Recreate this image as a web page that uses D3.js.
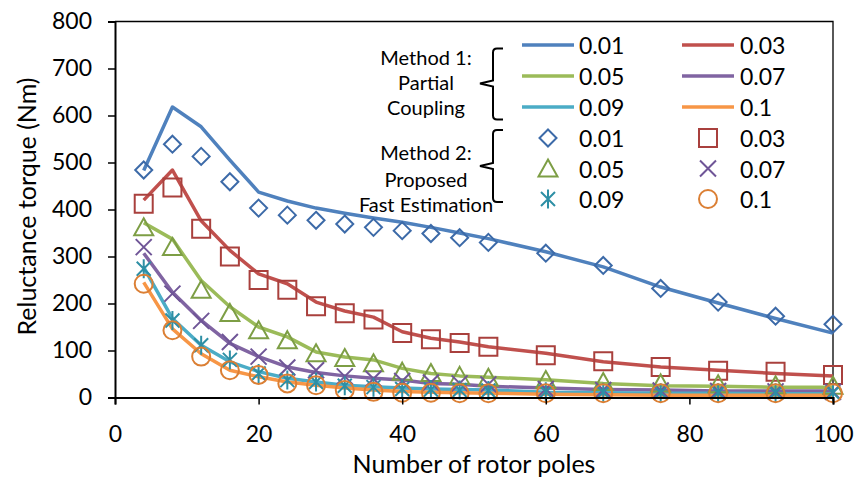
<!DOCTYPE html>
<html>
<head>
<meta charset="utf-8">
<script src="https://cdn.jsdelivr.net/npm/d3@7"></script>
<style>
  body { margin: 0; background: #fff; }
  svg { display: block; }
  text { font-family: Lato, "Open Sans", sans-serif; fill: #000; }
</style>
</head>
<body>
<div id="chart-container"></div>
<script>
// x values: number of rotor poles
const poles = [4, 8, 12, 16, 20, 24, 28, 32, 36, 40, 44, 48, 52, 60, 68, 76, 84, 92, 100];

// Method 1: Partial Coupling (lines)
const partial001 = [483, 618, 576, 505, 437, 418, 403, 392, 382, 373, 362, 350, 338, 310, 278, 235, 201, 168, 137];
const partial003 = [420, 484, 376, 313, 263, 242, 203, 184, 171, 140, 126, 118, 108, 94, 76, 65, 58, 51, 46];
const partial005 = [372, 337, 249, 193, 150, 129, 97, 86, 80, 62, 51, 46, 43, 38, 30, 25, 24, 22, 22];
const partial007 = [307, 224, 164, 115, 87, 65, 53, 46, 41, 37, 30, 28, 24, 20, 17, 16, 14, 14, 14];
const partial009 = [277, 168, 111, 76, 55, 41, 33, 26, 23, 20, 18, 17, 16, 11, 10, 9, 9, 8, 8];
const partial01 = [245, 146, 93, 58, 44, 33, 26, 20, 16, 13, 11, 10, 9, 7, 6, 5, 5, 5, 5];

// Method 2: Proposed Fast Estimation (markers)
const fast001 = [484, 539, 513, 459, 403, 388, 377, 369, 362, 355, 349, 340, 330, 307, 281, 232, 203, 173, 156];
const fast003 = [412, 447, 359, 300, 250, 229, 194, 179, 166, 137, 124, 116, 108, 90, 77, 65, 57, 55, 48];
const fast005 = [362, 320, 229, 180, 143, 122, 94, 84, 73, 55, 52, 46, 42, 37, 33, 30, 28, 26, 25];
const fast007 = [320, 221, 163, 118, 87, 64, 58, 45, 40, 35, 32, 30, 28, 18, 16, 15, 14, 13, 12];
const fast009 = [274, 164, 111, 80, 51, 37, 33, 25, 22, 18, 17, 16, 15, 12, 11, 10, 10, 10, 10];
const fast01 = [242, 143, 87, 58, 48, 30, 26, 16, 12, 10, 10, 9, 9, 9, 9, 9, 9, 9, 9];

const seriesLabels = ["0.01", "0.03", "0.05", "0.07", "0.09", "0.1"];
const xTicks = [0, 20, 40, 60, 80, 100];
const yTicks = [0, 100, 200, 300, 400, 500, 600, 700, 800];

const lineColors = ["#4F81BD", "#C0504D", "#9BBB59", "#8064A2", "#4BACC6", "#F79646"];
const markerColors = ["#3C6AA8", "#A9403D", "#7D9E45", "#6F5597", "#2E8FA5", "#DB7F34"];
const markerTypes = ["diamond", "square", "triangle", "x", "star", "circle"];

const lineSeries = [partial001, partial003, partial005, partial007, partial009, partial01];
const markerSeries = [fast001, fast003, fast005, fast007, fast009, fast01];

const width = 857;
const height = 487;
const margin = { top: 21.5, right: 24, bottom: 89.5, left: 115 };
const innerWidth = width - margin.left - margin.right;
const innerHeight = height - margin.top - margin.bottom;

const svg = d3.select("#chart-container")
  .append("svg")
  .attr("width", width)
  .attr("height", height);

const xScale = d3.scaleLinear().domain([0, 100]).range([0, innerWidth]);
const yScale = d3.scaleLinear().domain([0, 800]).range([innerHeight, 0]);

const chartGroup = svg.append("g")
  .attr("transform", `translate(${margin.left},${margin.top})`);

// thin frame on top and right
chartGroup.append("path")
  .attr("d", `M0,0H${innerWidth}V${innerHeight}`)
  .attr("fill", "none")
  .attr("stroke", "#000")
  .attr("stroke-width", 1.3);

// marker shapes
function markerPath(type) {
  switch (type) {
    case "diamond": return "M0,-8.5L8.5,0L0,8.5L-8.5,0Z";
    case "square": return "M-9,-9H9V9H-9Z";
    case "triangle": return "M0,-9L9.5,8L-9.5,8Z";
    case "x": return "M-8,-8L8,8M-8,8L8,-8";
    case "star": return "M-7,-7L7,7M-7,7L7,-7M0,-9.5V9.5";
    case "circle": return "M9,0A9,9 0 1,1 -9,0A9,9 0 1,1 9,0Z";
  }
}

// lines (method 1)
const line = d3.line()
  .x((d, i) => xScale(poles[i]))
  .y(d => yScale(d));

lineSeries.forEach((values, k) => {
  chartGroup.append("path")
    .datum(values)
    .attr("fill", "none")
    .attr("stroke", lineColors[k])
    .attr("stroke-width", 3.5)
    .attr("stroke-linejoin", "round")
    .attr("d", line);
});

// markers (method 2)
markerSeries.forEach((values, k) => {
  chartGroup.selectAll(".m" + k)
    .data(values)
    .enter()
    .append("path")
    .attr("class", "m" + k)
    .attr("transform", (d, i) => `translate(${xScale(poles[i])},${yScale(d)})`)
    .attr("d", markerPath(markerTypes[k]))
    .attr("fill", "none")
    .attr("stroke", markerColors[k])
    .attr("stroke-width", 2);
});

// axes
const xAxis = d3.axisBottom(xScale).tickValues(xTicks).tickSizeOuter(0).tickSize(7);
const gx = chartGroup.append("g")
  .attr("transform", `translate(0, ${innerHeight})`)
  .call(xAxis);
gx.select(".domain").attr("stroke-width", 2);
gx.selectAll(".tick line").attr("stroke-width", 1.5);
gx.selectAll("text")
  .attr("y", 44.5)
  .attr("dy", 0)
  .style("font-size", "23px");

const yAxis = d3.axisLeft(yScale).tickValues(yTicks).tickSizeOuter(0).tickSize(7);
const gy = chartGroup.append("g").call(yAxis);
gy.select(".domain").attr("stroke-width", 2);
gy.selectAll(".tick line").attr("stroke-width", 1.5);
gy.selectAll("text")
  .attr("x", -23)
  .style("font-size", "23px");
svg.selectAll(".tick text").attr("fill", "#000");

// axis labels
svg.append("text")
  .attr("x", margin.left + innerWidth / 2)
  .attr("y", 473)
  .style("text-anchor", "middle")
  .style("font-size", "25px")
  .text("Number of rotor poles");

svg.append("text")
  .attr("transform", "rotate(-90)")
  .attr("y", 36)
  .attr("x", -(margin.top + innerHeight / 2) + 3)
  .style("text-anchor", "middle")
  .style("font-size", "25px")
  .text("Reluctance torque (Nm)");

// legend
const legend = svg.append("g");
const rowY = [45, 76, 107, 138, 168.5, 199];
const colLineX = [522, 682];
const colMarkX = [548, 708];
const colTextX = [579, 740];

seriesLabels.forEach((label, k) => {
  const col = k % 2;
  const row = Math.floor(k / 2);
  // line entry
  legend.append("line")
    .attr("x1", colLineX[col]).attr("x2", colLineX[col] + 52)
    .attr("y1", rowY[row]).attr("y2", rowY[row])
    .attr("stroke", lineColors[k])
    .attr("stroke-width", 3.5);
  legend.append("text")
    .attr("x", colTextX[col]).attr("y", rowY[row] + 9)
    .style("font-size", "23px")
    .text(label);
  // marker entry
  legend.append("path")
    .attr("transform", `translate(${colMarkX[col]},${rowY[row + 3]})`)
    .attr("d", markerPath(markerTypes[k]))
    .attr("fill", "none")
    .attr("stroke", markerColors[k])
    .attr("stroke-width", 2);
  legend.append("text")
    .attr("x", colTextX[col]).attr("y", rowY[row + 3] + 9)
    .style("font-size", "23px")
    .text(label);
});

// method labels with braces
const methodLines = [
  { text: "Method 1:", y: 65 }, { text: "Partial", y: 90 }, { text: "Coupling", y: 115 },
  { text: "Method 2:", y: 160 }, { text: "Proposed", y: 186.5 }, { text: "Fast Estimation", y: 211.5 }
];
methodLines.forEach(m => {
  legend.append("text")
    .attr("x", 426).attr("y", m.y)
    .style("text-anchor", "middle")
    .style("font-size", "20px")
    .text(m.text);
});

function brace(top, mid, bottom) {
  const x = 493;
  return `M503,${top}H497Q${x},${top} ${x},${top + 4}V${mid - 3}L480,${mid}L${x},${mid + 3}` +
    `V${bottom - 4}Q${x},${bottom} 497,${bottom}H503`;
}
legend.append("path").attr("d", brace(48.5, 83.5, 119.5))
  .attr("fill", "none").attr("stroke", "#000").attr("stroke-width", 2);
legend.append("path").attr("d", brace(130, 166, 202))
  .attr("fill", "none").attr("stroke", "#000").attr("stroke-width", 2);
</script>
</body>
</html>
